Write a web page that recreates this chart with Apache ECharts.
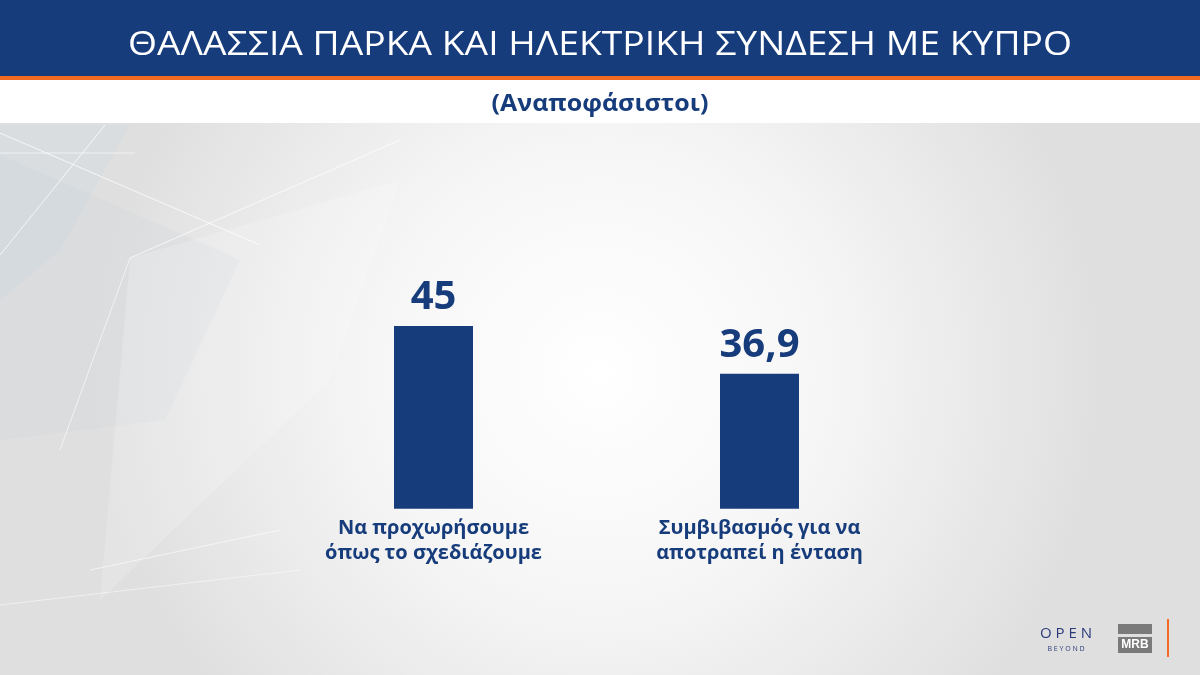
<!DOCTYPE html>
<html><head><meta charset="utf-8">
<script src="https://cdn.jsdelivr.net/npm/echarts@6/dist/echarts.min.js"></script>
<style>html,body{margin:0;padding:0;}#c{width:1200px;height:675px;}</style>
</head><body><div id="c"></div>
<script>
const titleText = 'ΘΑΛΑΣΣΙΑ ΠΑΡΚΑ ΚΑΙ ΗΛΕΚΤΡΙΚΗ ΣΥΝΔΕΣΗ ΜΕ ΚΥΠΡΟ';
const subtitleText = '(Αναποφάσιστοι)';
const categories = ['Να προχωρήσουμε\nόπως το σχεδιάζουμε', 'Συμβιβασμός για να\nαποτραπεί η ένταση'];
const values = [45, 36.9];

const NAVY = '#173C7C';
const chart = echarts.init(document.getElementById('c'));
chart.setOption({
  backgroundColor: {
    type: 'radial', x: 0.5, y: 0.55, r: 0.75,
    colorStops: [{offset: 0, color: '#ffffff'}, {offset: 0.45, color: '#f6f6f6'}, {offset: 1, color: '#dfdfdf'}]
  },
  graphic: [
    {type: 'polygon', z: 0, shape: {points: [[0,125],[130,125],[60,250],[0,300]]}, style: {fill: 'rgba(200,215,228,0.25)'}},
    {type: 'polygon', z: 0, shape: {points: [[0,155],[240,260],[165,420],[0,440]]}, style: {fill: 'rgba(205,212,220,0.25)'}},
    {type: 'polygon', z: 0, shape: {points: [[130,258],[400,180],[330,380],[100,600]]}, style: {fill: 'rgba(255,255,255,0.18)'}},
    {type: 'line', z: 0, shape: {x1: 0, y1: 133, x2: 260, y2: 245}, style: {stroke: 'rgba(255,255,255,0.75)', lineWidth: 1}},
    {type: 'line', z: 0, shape: {x1: 105, y1: 125, x2: 0, y2: 255}, style: {stroke: 'rgba(255,255,255,0.75)', lineWidth: 1}},
    {type: 'line', z: 0, shape: {x1: 130, y1: 258, x2: 400, y2: 140}, style: {stroke: 'rgba(255,255,255,0.7)', lineWidth: 1}},
    {type: 'line', z: 0, shape: {x1: 130, y1: 258, x2: 60, y2: 450}, style: {stroke: 'rgba(255,255,255,0.6)', lineWidth: 1}},
    {type: 'line', z: 0, shape: {x1: 0, y1: 153, x2: 135, y2: 153}, style: {stroke: 'rgba(255,255,255,0.6)', lineWidth: 1}},
    {type: 'line', z: 0, shape: {x1: 90, y1: 570, x2: 280, y2: 530}, style: {stroke: 'rgba(255,255,255,0.6)', lineWidth: 1}},
    {type: 'line', z: 0, shape: {x1: 0, y1: 605, x2: 300, y2: 570}, style: {stroke: 'rgba(255,255,255,0.5)', lineWidth: 1}},
    {type: 'rect', z: 1, shape: {x: 0, y: 0, width: 1200, height: 77}, style: {fill: '#173C7C'}},
    {type: 'rect', z: 1, shape: {x: 0, y: 76, width: 1200, height: 4}, style: {fill: '#F26B21'}},
    {type: 'rect', z: 1, shape: {x: 0, y: 80, width: 1200, height: 43}, style: {fill: '#ffffff'}},
    {type: 'text', z: 3, x: 600, y: 46, scaleX: 1.165, style: {text: titleText, fill: '#ffffff', align: 'center', verticalAlign: 'middle', font: '32px "Open Sans", sans-serif'}},
    {type: 'text', z: 3, x: 600, y: 104, scaleX: 1.04, style: {text: subtitleText, fill: NAVY, align: 'center', verticalAlign: 'middle', font: 'bold 24px "Open Sans", sans-serif'}},
    {type: 'text', z: 3, x: 1066, y: 634, style: {text: 'O P E N', fill: '#2a3a7a', align: 'center', verticalAlign: 'middle', font: '15px "Open Sans", sans-serif'}},
    {type: 'text', z: 3, x: 1066, y: 649, style: {text: 'B E Y O N D', fill: '#2a3a7a', align: 'center', verticalAlign: 'middle', font: '7px "Open Sans", sans-serif'}},
    {type: 'rect', z: 3, shape: {x: 1118, y: 624, width: 34, height: 10}, style: {fill: '#7a7a7a'}},
    {type: 'rect', z: 3, shape: {x: 1118, y: 637, width: 34, height: 16}, style: {fill: '#7a7a7a'}},
    {type: 'text', z: 4, x: 1135, y: 645, style: {text: 'MRB', fill: '#ffffff', align: 'center', verticalAlign: 'middle', font: 'bold 12px "Liberation Sans", sans-serif'}},
    {type: 'rect', z: 3, shape: {x: 1167, y: 619, width: 2, height: 38}, style: {fill: '#F26B21'}}
  ],
  grid: {left: 270.5, right: 277.5, top: 237.6, bottom: 166.3},
  xAxis: {
    type: 'category', data: categories,
    axisLine: {show: false}, axisTick: {show: false},
    axisLabel: {color: NAVY, fontSize: 20, fontWeight: 'bold', fontFamily: '"Open Sans", sans-serif', lineHeight: 25, margin: 7}
  },
  yAxis: {type: 'value', min: 14, max: 60, show: false, splitLine: {show: false}},
  series: [{
    type: 'bar', data: values, barWidth: 79,
    itemStyle: {color: NAVY},
    label: {
      show: true, position: 'top', distance: 8, color: NAVY,
      fontSize: 40, fontWeight: 'bold', fontFamily: '"Open Sans", sans-serif',
      formatter: p => String(p.value).replace('.', ',')
    }
  }]
});
</script></body></html>
